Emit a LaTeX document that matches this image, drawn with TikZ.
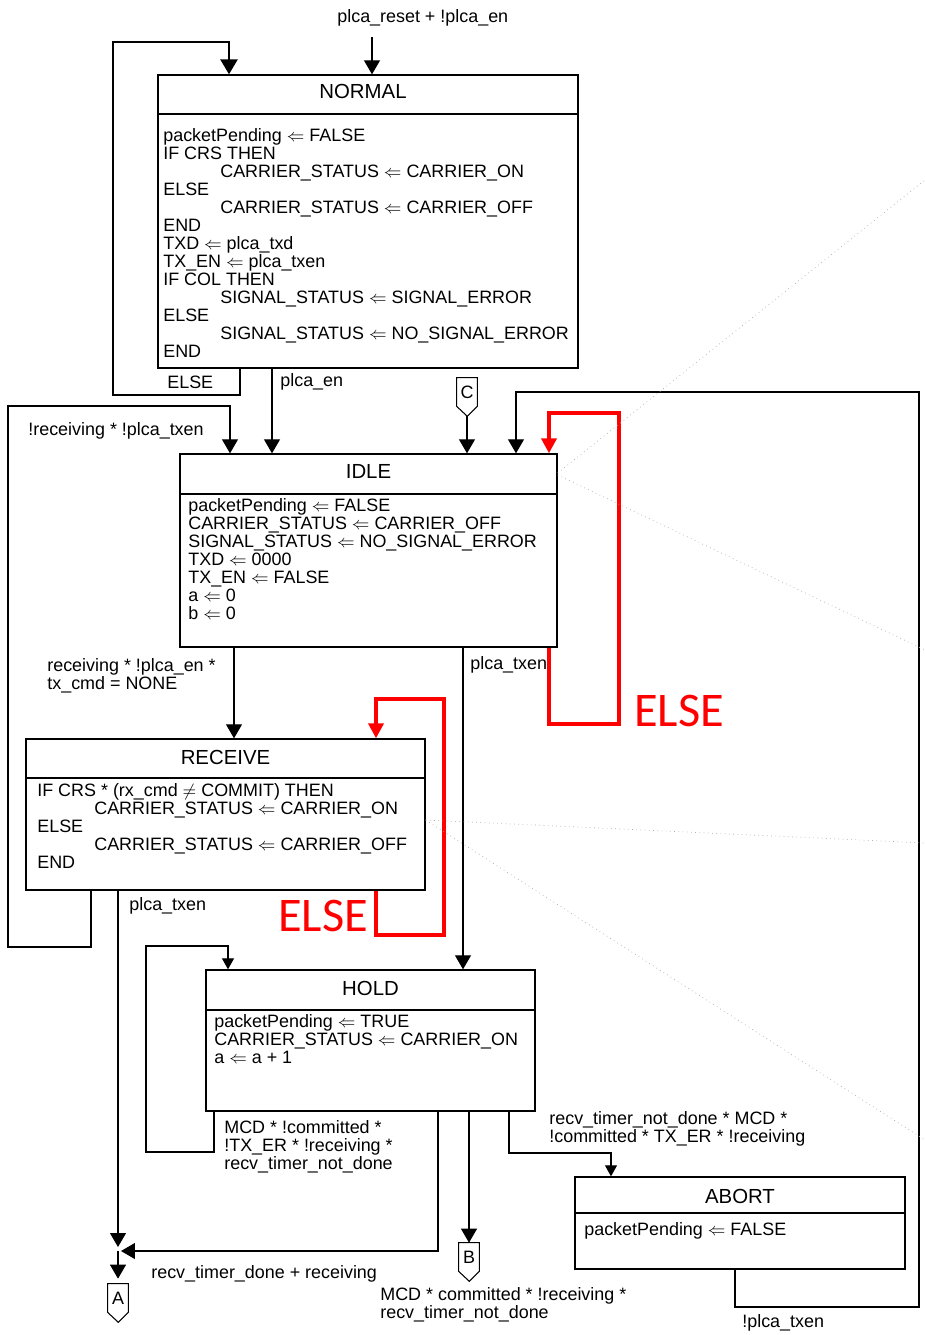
\documentclass[tikz,border=0pt]{standalone}
\usepackage{fontspec}
\setmainfont{Liberation Sans}
\newfontfamily\carlito{Carlito}
\usepackage{graphicx}
\usetikzlibrary{arrows.meta}
\usetikzlibrary{calc}
\newcommand{\lar}{\scalebox{1.0}{$\Leftarrow$}}
\newcommand{\stind}{\hspace*{1.14cm}}

\begin{document}
\begin{tikzpicture}[x=0.02cm, y=-0.02cm,
  state/.style={draw, line width=0.8pt, inner sep=0pt},
  stitle/.style={font=\fontsize{11.6}{12}\selectfont, inner sep=0pt},
  sbody/.style={font=\fontsize{10.2}{10.24}\selectfont, align=left, inner sep=0pt, anchor=north west},
  lbl/.style={font=\fontsize{10.2}{10.24}\selectfont, align=left, inner sep=0pt, anchor=west},
  lbltwo/.style={lbl, anchor=north west},
  redlbl/.style={red, font=\carlito\fontsize{27.5}{27.5}\selectfont, inner sep=0pt, anchor=west},
  offpage/.style={inner sep=0pt, minimum width=0.4cm, minimum height=0.56cm, font=\fontsize{10.2}{10.24}\selectfont},
  arr/.style={line width=0.6pt, -{Triangle[width=0.32cm,length=0.28cm]}},
  sarr/.style={line width=0.6pt, -{Triangle[width=0.24cm,length=0.22cm]}},
  thickarr/.style={line width=1.5pt, -{Triangle[width=0.34cm,length=0.3cm]}},
  redloop/.style={red, line width=2.2pt, -{Triangle[width=0.3cm,length=0.3cm]}},
  ghost/.style={gray!65, dotted, line width=0.4pt}]
\useasboundingbox (0,0) rectangle (925,1335);

% states
\node[state, minimum width=8.4cm, minimum height=5.86cm] (normal) at (368,221.5) {};
\draw[line width=1.4pt] (normal.west |- 0,114) -- (normal.east |- 0,114);
\node[stitle] (normaltitle) at (363,91) {NORMAL};
\node[sbody] (normalbody) at (163,128) {packetPending \lar{} FALSE\\
IF CRS THEN\\
\stind CARRIER\_STATUS \lar{} CARRIER\_ON\\
ELSE\\
\stind CARRIER\_STATUS \lar{} CARRIER\_OFF\\
END\\
TXD \lar{} plca\_txd\\
TX\_EN \lar{} plca\_txen\\
IF COL THEN\\
\stind SIGNAL\_STATUS \lar{} SIGNAL\_ERROR\\
ELSE\\
\stind SIGNAL\_STATUS \lar{} NO\_SIGNAL\_ERROR\\
END};

\node[state, minimum width=7.54cm, minimum height=3.86cm] (idle) at (368.5,550.5) {};
\draw[line width=0.8pt] (idle.west |- 0,494) -- (idle.east |- 0,494);
\node[stitle] (idletitle) at (idle.north |- 0,471) {IDLE};
\node[sbody] (idlebody) at (188,498) {packetPending \lar{} FALSE\\
CARRIER\_STATUS \lar{} CARRIER\_OFF\\
SIGNAL\_STATUS \lar{} NO\_SIGNAL\_ERROR\\
TXD \lar{} 0000\\
TX\_EN \lar{} FALSE\\
a \lar{} 0\\
b \lar{} 0};

\node[state, minimum width=7.98cm, minimum height=3.02cm] (receive) at (225.5,814.5) {};
\draw[line width=0.8pt] (receive.west |- 0,778) -- (receive.east |- 0,778);
\node[stitle] (receivetitle) at (receive.north |- 0,757) {RECEIVE};
\node[sbody] (receivebody) at (37,783) {IF CRS * (rx\_cmd $\neq$ COMMIT) THEN\\
\stind CARRIER\_STATUS \lar{} CARRIER\_ON\\
ELSE\\
\stind CARRIER\_STATUS \lar{} CARRIER\_OFF\\
END};

\node[state, minimum width=6.58cm, minimum height=2.82cm] (hold) at (370.5,1040.5) {};
\draw[line width=0.8pt] (hold.west |- 0,1010) -- (hold.east |- 0,1010);
\node[stitle] (holdtitle) at (hold.north |- 0,988) {HOLD};
\node[sbody] (holdbody) at (214,1014) {packetPending \lar{} TRUE\\
CARRIER\_STATUS \lar{} CARRIER\_ON\\
a \lar{} a + 1};

\node[state, minimum width=6.6cm, minimum height=1.84cm] (abort) at (740,1223) {};
\draw[line width=0.8pt] (abort.west |- 0,1213) -- (abort.east |- 0,1213);
\node[stitle] (aborttitle) at (abort.north |- 0,1196) {ABORT};
\node[sbody] (abortbody) at (584,1222) {packetPending \lar{} FALSE};

% off-page connectors
\node[offpage] (offC) at (467,392) {C};
\node[offpage] (offB) at (469,1257) {B};
\node[offpage] (offA) at (118,1298) {A};
\foreach \p in {offC,offB,offA}
  \draw[line width=0.6pt] (\p.south west) -- (\p.north west) -- (\p.north east) -- (\p.south east) -- ++(-10,10) -- cycle;

% transitions
\node[lbl] (resetlbl) at (337,18) {plca\_reset + !plca\_en};
\coordinate (entry) at (372,37);
\draw[arr] (entry) -- (normal.north -| entry);

\draw[thickarr] (normal.south -| 240,0) |- (113,395) |- (229,42) -- (normal.north -| 229,0);
\node[lbl] (elselbl) at (167,382) {ELSE};

\draw[arr] (normal.south -| 272,0) -- (idle.north -| 272,0);
\node[lbl] (plcaenlbl) at (280,382) {plca\_en};

\draw[arr] (offC.south) ++(0,10) -- (idle.north -| offC);

\draw[arr] (abort.south -| 735,0) |- (919,1307) |- (516,392) -- (idle.north -| 516,0);
\node[lbl] (txenlbl) at (742,1323) {!plca\_txen};

\draw[redloop] (idle.south -| 549,0) |- (619,724) |- (549,413) -- (idle.north -| 549,0);
\node[redlbl] (idleelse) at (634,711) {ELSE};

\draw[arr] (receive.south -| 91,0) |- (8,947) |- (230,406) -- (idle.north -| 230,0);
\node[lbl] (rxidlelbl) at (28,431) {!receiving * !plca\_txen};

\draw[arr] (idle.south -| 234,0) -- (receive.north -| 234,0);
\node[lbltwo] (idlerxlbl) at (47,658) {receiving * !plca\_en *\\tx\_cmd = NONE};

\draw[redloop] (receive.south -| 376,0) |- (444,935) |- (376,699) -- (receive.north -| 376,0);
\node[redlbl] (rxelse) at (278,916) {ELSE};

\draw[arr] (idle.south -| 463,0) -- (hold.north -| 463,0);
\node[lbl] (holdlbl) at (470,665) {plca\_txen};

\coordinate (join) at (118,1251);
\draw[arr, shorten >=0.08cm] (receive.south -| join) -- (join);
\node[lbl] (rxalbl) at (129,906) {plca\_txen};

\draw[sarr] (hold.south -| 214,0) |- (146,1152) |- (228,946) -- (hold.north -| 228,0);
\node[lbltwo] (holdholdlbl) at (224,1120) {MCD * !committed *\\!TX\_ER * !receiving *\\recv\_timer\_not\_done};

\draw[arr, shorten >=0.06cm] (hold.south -| 438,0) |- (join);
\draw[arr, shorten >=0.1cm] (join) -- (offA.north);
\node[lbl] (holdalbl) at (151,1274) {recv\_timer\_done + receiving};

\draw[arr] (hold.south -| offB) -- (offB.north);
\node[lbltwo] (holdblbl) at (380,1287) {MCD * committed * !receiving *\\recv\_timer\_not\_done};

\draw[sarr] (hold.south -| 509,0) |- (611,1153) -- (abort.north -| 611,0);
\node[lbltwo] (holdabortlbl) at (549,1111) {recv\_timer\_not\_done * MCD *\\!committed * TX\_ER * !receiving};

% faint guide lines
\draw[ghost] (idle.east |- 0,473) -- (925,180);
\draw[ghost] (idle.east |- 0,475) -- (925,650);
\draw[ghost] (receive.east |- 0,820) -- (925,843);
\draw[ghost] (receive.east |- 0,820) -- (925,1140);

\end{tikzpicture}
\end{document}
